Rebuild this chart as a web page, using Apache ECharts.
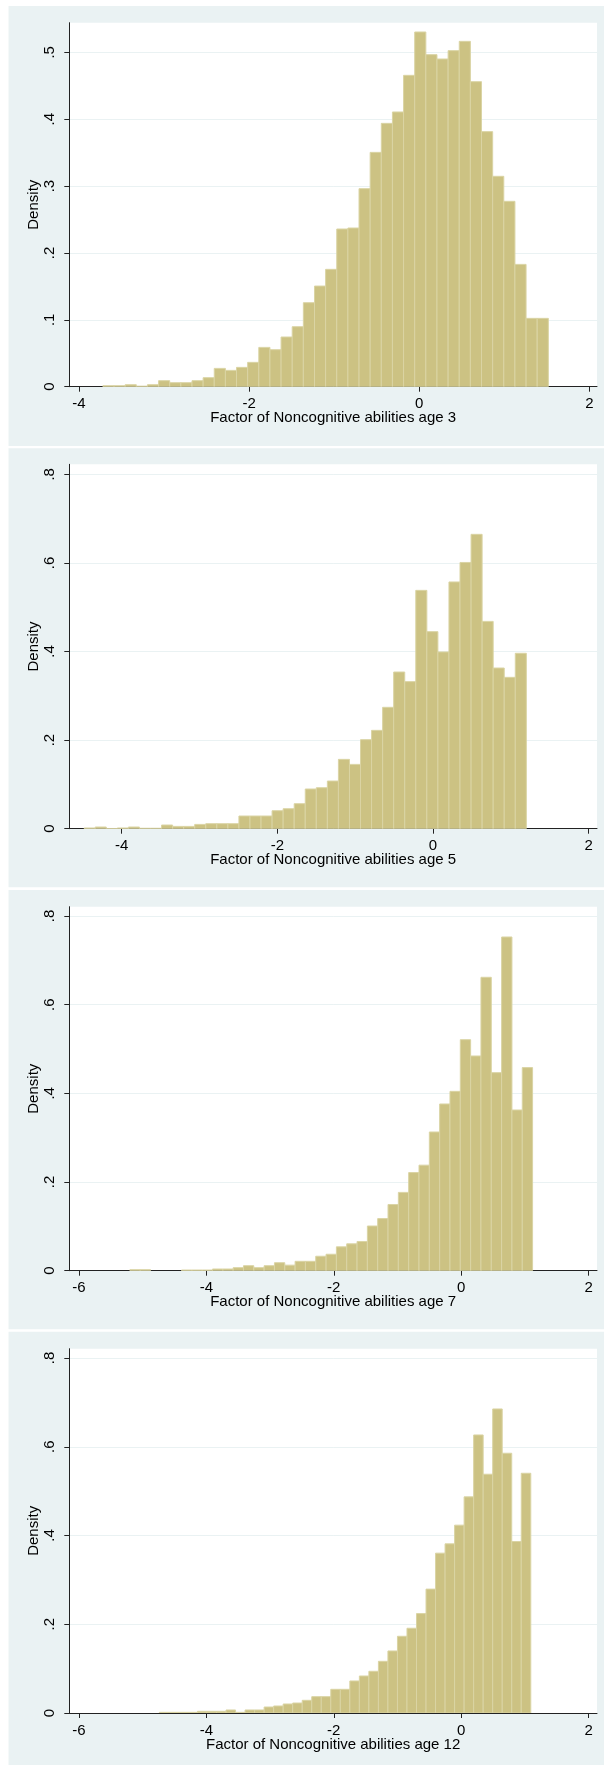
<!DOCTYPE html>
<html>
<head>
<meta charset="utf-8">
<script src="https://cdn.jsdelivr.net/npm/echarts@6/dist/echarts.min.js"></script>
<style>
  html, body { margin: 0; padding: 0; background: #ffffff; }
  #chart { width: 604px; height: 1765px; }
</style>
</head>
<body>
<div id="chart"></div>
<script>
// Histogram bins: first bin edge, bin width and density per bin, one set per age.
const age3BinStart = -3.719;
const age3BinWidth = 0.1309;
const age3Density = [
  0.0015, 0.0015, 0.0030, 0.0008, 0.0030, 0.0090, 0.0060, 0.0060, 0.0090, 0.0135,
  0.0274, 0.0244, 0.0289, 0.0364, 0.0588, 0.0553, 0.0743, 0.0897, 0.1256, 0.1505,
  0.1755, 0.2358, 0.2373, 0.2961, 0.3504, 0.3938, 0.4108, 0.4656, 0.5304, 0.4965,
  0.4900, 0.5025, 0.5164, 0.4561, 0.3814, 0.3146, 0.2772, 0.1829, 0.1022, 0.1022
];

const age5BinStart = -4.482;
const age5BinWidth = 0.14205;
const age5Density = [
  0.0016, 0.0038, 0.0005, 0.0016, 0.0038, 0.0010, 0.0010, 0.0083, 0.0052, 0.0052,
  0.0097, 0.0113, 0.0113, 0.0113, 0.0286, 0.0286, 0.0286, 0.0406, 0.0451, 0.0564,
  0.0896, 0.0925, 0.1076, 0.1565, 0.1452, 0.2010, 0.2220, 0.2740, 0.3537, 0.3320,
  0.5380, 0.4448, 0.3990, 0.5570, 0.6010, 0.6645, 0.4680, 0.3627, 0.3417, 0.3960
];

const age7BinStart = -5.201;
const age7BinWidth = 0.1621;
const age7Density = [
  0.0023, 0.0023, 0, 0, 0, 0.0015, 0.0015, 0.0015, 0.0038, 0.0038,
  0.0068, 0.0113, 0.0068, 0.0113, 0.0180, 0.0125, 0.0212, 0.0212, 0.0326, 0.0371,
  0.0538, 0.0606, 0.0659, 0.1008, 0.1175, 0.1493, 0.1766, 0.2213, 0.2380, 0.3128,
  0.3760, 0.4045, 0.5210, 0.4842, 0.6617, 0.4466, 0.7526, 0.3624, 0.4580
];

const age12BinStart = -4.738;
const age12BinWidth = 0.1495;
const age12Density = [
  0.0015, 0.0015, 0.0015, 0.0015, 0.0038, 0.0038, 0.0038, 0.0068, 0.0015, 0.0068,
  0.0068, 0.0135, 0.0158, 0.0203, 0.0225, 0.0286, 0.0368, 0.0368, 0.0534, 0.0534,
  0.0722, 0.0834, 0.0940, 0.1165, 0.1398, 0.1729, 0.1910, 0.2240, 0.2792, 0.3602,
  0.3812, 0.4233, 0.4871, 0.6266, 0.5381, 0.6852, 0.5854, 0.3865, 0.5403
];

// Axis tick values and titles
const xTicksAge3 = [-4, -2, 0, 2];
const xTicksAge5 = [-4, -2, 0, 2];
const xTicksAge7 = [-6, -4, -2, 0, 2];
const xTicksAge12 = [-6, -4, -2, 0, 2];
const yTicksAge3 = [0, 0.1, 0.2, 0.3, 0.4, 0.5];
const yTicksWide = [0, 0.2, 0.4, 0.6, 0.8];
const axisTitles = [
  'Factor of Noncognitive abilities age 3',
  'Factor of Noncognitive abilities age 5',
  'Factor of Noncognitive abilities age 7',
  'Factor of Noncognitive abilities age 12'
];

const FONT = "'Liberation Sans', Arial, Helvetica, sans-serif";
const BAR_FILL = '#ccc283';
const BAR_EDGE = '#dad4a4';
const PANEL_BG = '#eaf2f3';
const AXIS_COLOR = '#222222';

// Layout of each panel's plot region plus its axis ranges
const panels = [
  { top: 22.7,  height: 364.0, xMin: -4.114, xMax: 2.089, yMax: 0.5443, yStep: 0.1,
    xTicks: xTicksAge3, yTicks: yTicksAge3, start: age3BinStart, width: age3BinWidth, dens: age3Density },
  { top: 464.3, height: 364.4, xMin: -4.673, xMax: 2.108, yMax: 0.8226, yStep: 0.2,
    xTicks: xTicksAge5, yTicks: yTicksWide, start: age5BinStart, width: age5BinWidth, dens: age5Density },
  { top: 906.7, height: 364.0, xMin: -6.152, xMax: 2.132, yMax: 0.8209, yStep: 0.2,
    xTicks: xTicksAge7, yTicks: yTicksWide, start: age7BinStart, width: age7BinWidth, dens: age7Density },
  { top: 1348.7, height: 364.3, xMin: -6.152, xMax: 2.132, yMax: 0.8210, yStep: 0.2,
    xTicks: xTicksAge12, yTicks: yTicksWide, start: age12BinStart, width: age12BinWidth, dens: age12Density }
];

function stataLabel(v) {
  if (Math.abs(v) < 1e-9) return '0';
  const s = (Math.round(v * 10) / 10).toString();
  return s.replace(/^0\./, '.').replace(/^-0\./, '-.');
}

function renderBar(params, api) {
  const x0 = api.value(0), x1 = api.value(1), y = api.value(2);
  if (!(y > 0)) return null;
  const pTop = api.coord([x0, y]);
  const pBot = api.coord([x1, 0]);
  return {
    type: 'rect',
    shape: { x: pTop[0], y: pTop[1], width: pBot[0] - pTop[0], height: pBot[1] - pTop[1] },
    style: { fill: BAR_FILL, stroke: BAR_EDGE, lineWidth: 1 }
  };
}

const grids = [], xAxes = [], yAxes = [], series = [];
panels.forEach((p, i) => {
  grids.push({
    left: 69.3, top: p.top, width: 527.7, height: p.height,
    show: true, backgroundColor: '#ffffff', borderWidth: 0,
    containLabel: false, outerBoundsMode: 'none'
  });
  xAxes.push({
    type: 'value', gridIndex: i, min: p.xMin, max: p.xMax,
    name: axisTitles[i], nameLocation: 'middle', nameGap: 24, nameMoveOverlap: false,
    nameTextStyle: { fontSize: 15, color: '#000', fontFamily: FONT },
    axisLine: { show: true, onZero: false, lineStyle: { color: AXIS_COLOR, width: 1 } },
    axisTick: { show: true, inside: false, length: 5, customValues: p.xTicks,
                lineStyle: { color: AXIS_COLOR, width: 1 } },
    axisLabel: { show: true, fontSize: 15, color: '#000', fontFamily: FONT, margin: 10,
                 customValues: p.xTicks, formatter: v => stataLabel(v) },
    splitLine: { show: false }
  });
  yAxes.push({
    type: 'value', gridIndex: i, min: 0, max: p.yMax, interval: p.yStep,
    name: 'Density', nameLocation: 'middle', nameGap: 28, nameRotate: 90, nameMoveOverlap: false,
    nameTextStyle: { fontSize: 15, color: '#000', fontFamily: FONT },
    axisLine: { show: true, onZero: false, lineStyle: { color: AXIS_COLOR, width: 1 } },
    axisTick: { show: true, inside: false, length: 5, customValues: p.yTicks,
                lineStyle: { color: AXIS_COLOR, width: 1 } },
    axisLabel: { show: true, rotate: 90, fontSize: 15, color: '#000', fontFamily: FONT, margin: 12,
                 customValues: p.yTicks, formatter: v => stataLabel(v) },
    splitLine: { show: true, lineStyle: { color: PANEL_BG, width: 1 } }
  });
  const data = p.dens.map((d, k) => [p.start + k * p.width, p.start + (k + 1) * p.width, d]);
  series.push({
    type: 'custom', xAxisIndex: i, yAxisIndex: i, renderItem: renderBar,
    encode: { x: [0, 1], y: 2 }, data: data, clip: true, silent: true, animation: false
  });
});

// White frame around and between the four panels
const whiteStrips = [
  [0, 0, 8.5, 1765], [0, 0, 604, 6], [0, 446, 604, 2.3], [0, 887.3, 604, 2.7], [0, 1329.3, 604, 2.4]
].map(r => ({
  type: 'rect', z: 100, silent: true,
  shape: { x: r[0], y: r[1], width: r[2], height: r[3] },
  style: { fill: '#ffffff' }
}));

const chart = echarts.init(document.getElementById('chart'), null, { renderer: 'canvas' });
chart.setOption({
  animation: false,
  backgroundColor: PANEL_BG,
  textStyle: { fontFamily: FONT },
  grid: grids,
  xAxis: xAxes,
  yAxis: yAxes,
  series: series,
  graphic: whiteStrips
});
</script>
</body>
</html>
